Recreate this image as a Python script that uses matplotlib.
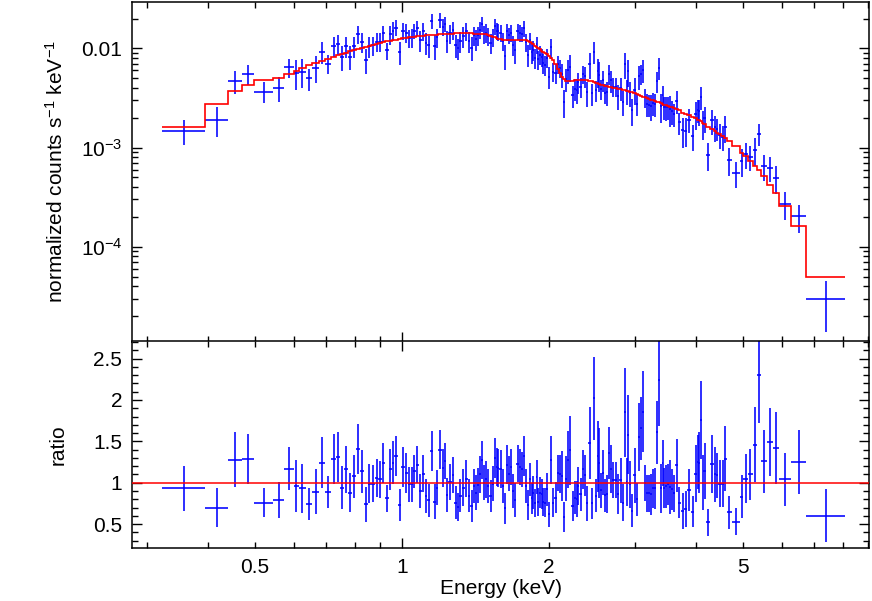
import matplotlib
matplotlib.use("Agg")
import matplotlib.pyplot as plt
import numpy as np
from matplotlib.ticker import FixedLocator, FixedFormatter, NullFormatter, MultipleLocator

plt.rcParams['font.family'] = ['Liberation Sans', 'DejaVu Sans']
plt.rcParams['mathtext.fontset'] = 'custom'
plt.rcParams['mathtext.rm'] = 'Liberation Sans'
plt.rcParams['mathtext.it'] = 'Liberation Sans'

# bin edges in keV
edges = [
    0.322, 0.3945, 0.4403, 0.470, 0.4976, 0.5442, 0.5734, 0.6006, 0.615, 0.6344,
    0.6555, 0.6744, 0.6941, 0.7158, 0.7327, 0.7467, 0.7607, 0.7753, 0.790, 0.8051,
    0.8204, 0.8358, 0.8498, 0.8639, 0.8804, 0.8950,
    0.9078, 0.9230, 0.9384, 0.9518, 0.9629, 0.9790, 0.9976, 1.0119, 1.0263, 1.0410,
    1.0533, 1.0658, 1.0810, 1.0964, 1.1146, 1.1278, 1.1412, 1.1602, 1.1740, 1.1879,
    1.2049, 1.2191, 1.2307, 1.2453, 1.2631, 1.2810, 1.2962, 1.3085, 1.3241, 1.3459,
    1.3651, 1.3813, 1.3976, 1.4108, 1.4242, 1.4377, 1.4514, 1.4649, 1.4823, 1.4963,
    1.5106, 1.529, 1.5435, 1.5581, 1.5692, 1.5841, 1.603, 1.6182, 1.6336, 1.6491,
    1.6647, 1.680, 1.6959, 1.7161, 1.7364, 1.7529, 1.7693, 1.7903, 1.8073, 1.8202,
    1.8374, 1.8504, 1.8635, 1.8812, 1.8945, 1.9080, 1.9261, 1.9396, 1.9533, 1.9719,
    1.9906, 2.0095, 2.029, 2.0531, 2.0775, 2.0972, 2.1171, 2.1371, 2.1624, 2.1829,
    2.1985, 2.2246, 2.2511, 2.2725, 2.2886, 2.3104, 2.337, 2.3647, 2.3872, 2.4098,
    2.4384, 2.4616, 2.4908, 2.5144, 2.5263, 2.5503, 2.5751, 2.5934, 2.6180, 2.6428,
    2.6679, 2.693, 2.7250, 2.7573, 2.7901,
    2.823, 2.8498, 2.8768, 2.8972, 2.9179, 2.9455, 2.9800, 3.0154, 3.0440, 3.0729,
    3.102, 3.1314, 3.1611, 3.1911, 3.2290, 3.2597, 3.2828, 3.3140, 3.3454, 3.3772,
    3.409, 3.4332, 3.4576, 3.4904, 3.5235, 3.5570, 3.5909, 3.6335, 3.6767, 3.7291,
    3.7905, 3.8445, 3.9086, 3.9736, 4.0208, 4.0494, 4.0782, 4.117, 4.1462, 4.1955,
    4.2856, 4.3569, 4.3983, 4.4505, 4.5141, 4.5669, 4.6321,
    4.743, 4.9256, 5.0073, 5.1148, 5.2367, 5.3365, 5.4383, 5.5945, 5.7551, 5.9205,
    6.2646, 6.7238, 8.0826,
]

# folded model, units of 1e-3 counts/s/keV
model_1e3 = [
    1.60, 2.74, 3.69, 4.32, 4.84, 5.08, 5.54, 5.95, 6.30, 6.75,
    7.20, 7.50, 7.90, 8.30, 8.55, 8.80, 9.10, 9.40, 9.70, 9.95,
    10.2, 10.45, 10.65, 10.85, 11.05,
    11.3, 11.5, 11.8, 12.0, 12.2, 12.3, 12.6, 12.7, 12.9, 13.0,
    13.2, 13.2, 13.3, 13.4, 13.5, 13.6, 13.6, 13.7, 13.8, 13.8,
    13.9, 14.0, 14.0, 14.1, 14.1, 14.1, 14.2, 14.2, 14.2, 14.2,
    14.2, 14.2, 14.2, 14.1, 14.1, 14.1, 14.1, 14.0, 14.0, 13.9,
    13.8, 13.5, 13.2, 13.0, 12.7, 12.6, 12.4, 12.3, 12.2, 12.2,
    12.2, 12.1, 12.1, 12.1, 12.1, 12.1, 12.1, 12.1, 12.1, 11.9,
    11.6, 11.3, 11.1, 10.7, 10.3, 10.1, 9.8, 9.5, 9.3, 9.0,
    8.8, 8.4, 8.0, 7.7, 6.9, 6.2, 5.7, 5.1, 4.9, 4.7,
    4.7, 4.7, 4.7, 4.8, 4.8, 4.8, 4.8, 4.8, 4.8, 4.8,
    4.7, 4.7, 4.6, 4.5, 4.5, 4.4, 4.3, 4.3, 4.2, 4.2,
    4.1, 4.1, 4.0, 4.0, 3.9,
    3.88, 3.84, 3.79, 3.74, 3.72, 3.67, 3.62, 3.52, 3.44, 3.37,
    3.31, 3.26, 3.21, 3.16, 3.11, 3.04, 3.01, 2.97, 2.92, 2.86,
    2.80, 2.75, 2.72, 2.67, 2.62, 2.58, 2.55, 2.51, 2.43, 2.37,
    2.26, 2.19, 2.11, 2.03, 1.97, 1.92, 1.90, 1.85, 1.78, 1.75,
    1.63, 1.53, 1.47, 1.42, 1.36, 1.30, 1.25,
    1.18, 1.05, 0.88, 0.82, 0.73, 0.65, 0.60, 0.52, 0.42, 0.35,
    0.26, 0.162, 0.0495,
]

# data / model
ratio = [
    0.93, 0.70, 1.28, 1.29, 0.76, 0.79, 1.17, 0.96, 0.93, 0.74,
    0.89, 1.24, 0.89, 1.29, 1.31, 0.94, 1.16, 0.88, 1.08, 1.41,
    1.14, 0.74, 0.99, 0.99, 1.06,
    1.04, 1.24, 0.81, 1.16, 1.24, 1.32, 0.73, 1.19, 1.12, 0.98,
    0.98, 1.14, 1.22, 0.90, 1.11, 0.84, 0.79, 1.38, 0.77, 0.94,
    1.40, 1.18, 1.26, 0.85, 1.01, 1.09, 0.76, 0.71, 0.84, 0.94,
    1.05, 0.84, 0.72, 0.96, 0.88, 0.97, 1.10, 1.27, 1.00, 1.04,
    0.96, 0.84, 0.99, 1.30, 1.19, 1.18, 1.16, 0.96, 0.69, 1.22,
    1.11, 1.19, 0.90, 0.79, 1.23, 1.19, 1.16, 1.32, 0.96, 0.73,
    1.04, 0.81, 0.88, 0.75, 1.07, 0.77, 0.88, 0.86, 0.77, 0.76,
    0.92, 0.62, 1.28, 0.76, 0.82, 1.12, 1.11, 1.08, 0.59, 1.05,
    1.28, 1.39, 0.72, 0.82, 0.80, 0.96, 0.86, 1.16, 1.09, 0.75,
    1.48, 0.75, 2.02, 0.84, 1.32, 1.24, 0.91, 1.12, 0.85, 0.86,
    1.36, 1.16, 1.03, 1.03, 0.86,
    1.03, 0.76, 1.85, 1.01, 1.58, 0.98, 0.66, 1.09, 0.80, 1.55,
    1.66, 1.86, 1.00, 0.87, 0.87, 0.86, 0.93, 0.93, 1.61, 2.24,
    0.93, 1.24, 0.94, 0.96, 0.98, 0.95, 0.92, 0.87, 1.21, 0.76,
    0.66, 0.68, 0.91, 0.65, 1.11, 1.25, 1.24, 1.76, 1.00, 1.14,
    0.52, 1.23, 1.10, 1.09, 0.99, 0.99, 1.29,
    0.64, 0.53, 0.83, 1.05, 1.10, 1.46, 2.30, 1.26, 1.49, 1.42,
    1.04, 1.25, 0.60,
]

ratio_err = [
    0.27, 0.23, 0.33, 0.30, 0.18, 0.22, 0.26, 0.32, 0.30, 0.19,
    0.27, 0.31, 0.19, 0.30, 0.30, 0.26, 0.28, 0.24, 0.26, 0.30,
    0.26, 0.21, 0.24, 0.22, 0.23,
    0.22, 0.24, 0.16, 0.25, 0.26, 0.24, 0.19, 0.24, 0.24, 0.21,
    0.21, 0.20, 0.22, 0.21, 0.22, 0.21, 0.20, 0.24, 0.21, 0.21,
    0.24, 0.23, 0.22, 0.21, 0.22, 0.22, 0.20, 0.17, 0.20, 0.22,
    0.22, 0.20, 0.19, 0.20, 0.21, 0.21, 0.22, 0.23, 0.21, 0.22,
    0.20, 0.19, 0.21, 0.24, 0.23, 0.23, 0.23, 0.20, 0.19, 0.24,
    0.21, 0.22, 0.21, 0.21, 0.22, 0.22, 0.21, 0.24, 0.20, 0.18,
    0.20, 0.19, 0.20, 0.17, 0.21, 0.17, 0.19, 0.18, 0.17, 0.17,
    0.20, 0.15, 0.29, 0.17, 0.19, 0.22, 0.23, 0.30, 0.18, 0.27,
    0.35, 0.42, 0.18, 0.20, 0.22, 0.23, 0.20, 0.24, 0.25, 0.21,
    0.43, 0.19, 0.50, 0.20, 0.43, 0.42, 0.21, 0.27, 0.20, 0.23,
    0.31, 0.29, 0.22, 0.22, 0.24,
    0.27, 0.22, 0.54, 0.29, 0.48, 0.28, 0.20, 0.33, 0.20, 0.41,
    0.38, 0.49, 0.22, 0.22, 0.22, 0.25, 0.24, 0.25, 0.38, 0.56,
    0.30, 0.28, 0.24, 0.26, 0.25, 0.33, 0.25, 0.22, 0.32, 0.19,
    0.22, 0.22, 0.25, 0.19, 0.34, 0.33, 0.37, 0.47, 0.33, 0.34,
    0.16, 0.35, 0.33, 0.27, 0.28, 0.28, 0.39,
    0.20, 0.16, 0.26, 0.30, 0.31, 0.45, 0.58, 0.38, 0.41, 0.44,
    0.32, 0.39, 0.32,
]

edges = np.array(edges)
model = np.array(model_1e3) * 1e-3
ratio = np.array(ratio)
ratio_err = np.array(ratio_err)
assert len(edges) == len(model) + 1 == len(ratio) + 1 == len(ratio_err) + 1, \
    (len(edges), len(model), len(ratio), len(ratio_err))

e_mid = 0.5 * (edges[:-1] + edges[1:])
e_half = 0.5 * (edges[1:] - edges[:-1])
counts = ratio * model
counts_err = ratio_err * model

W, H = 872, 601
fig = plt.figure(figsize=(W / 100, H / 100), dpi=100)
x0, x1 = 132, 869
ax1 = fig.add_axes([x0 / W, 1 - 341.5 / H, (x1 - x0) / W, 339.5 / H])
ax2 = fig.add_axes([x0 / W, 1 - 548.3 / H, (x1 - x0) / W, 206.8 / H], sharex=ax1)

blue = '#0000ff'
red = '#ff0000'

ax1.errorbar(e_mid, counts, xerr=e_half, yerr=counts_err, fmt='none',
             ecolor=blue, elinewidth=1.15, capsize=0, zorder=2)
ax1.stairs(model, edges, baseline=None, color=red, lw=1.2, zorder=3)

ax2.errorbar(e_mid, ratio, xerr=e_half, yerr=ratio_err, fmt='none',
             ecolor=blue, elinewidth=1.15, capsize=0, zorder=2)
ax2.axhline(1.0, color=red, lw=1.1, zorder=3)

ax1.set_xscale('log')
ax1.set_yscale('log')
ax1.set_xlim(0.2797, 9.057)
ax1.set_ylim(1.109e-5, 0.02944)
ax2.set_ylim(0.207, 2.707)

# x ticks: decade major, the rest minor; labels on 0.5, 1, 2, 5
minor_x = [0.3, 0.4, 0.5, 0.6, 0.7, 0.8, 0.9, 2, 3, 4, 5, 6, 7, 8, 9]
ax2.xaxis.set_major_locator(FixedLocator([1]))
ax2.xaxis.set_minor_locator(FixedLocator(minor_x))
ax2.xaxis.set_major_formatter(FixedFormatter(['1']))
ax2.xaxis.set_minor_formatter(FixedFormatter(
    ['', '', '0.5', '', '', '', '', '2', '', '', '5', '', '', '', '']))
plt.setp(ax1.get_xticklabels(which='both'), visible=False)

ax1.yaxis.set_major_locator(FixedLocator([1e-4, 1e-3, 1e-2]))
ax1.yaxis.set_major_formatter(FixedFormatter(['$10^{-4}$', '$10^{-3}$', '0.01']))
ax1.yaxis.set_minor_locator(FixedLocator(
    [m * 10.0 ** k for k in (-5, -4, -3, -2) for m in range(2, 10)]))
ax1.yaxis.set_minor_formatter(NullFormatter())

ax2.yaxis.set_major_locator(FixedLocator([0.5, 1, 1.5, 2, 2.5]))
ax2.yaxis.set_major_formatter(FixedFormatter(['0.5', '1', '1.5', '2', '2.5']))
ax2.yaxis.set_minor_locator(MultipleLocator(0.1))

for ax in (ax1, ax2):
    ax.tick_params(which='both', direction='in', top=True, right=True,
                   width=1.0, labelsize=15, pad=7)
    ax.tick_params(which='major', length=7)
    ax.tick_params(which='minor', length=4)
    for s in ax.spines.values():
        s.set_linewidth(1.1)

ax1.set_ylabel('normalized counts s$^{-1}$ keV$^{-1}$', fontsize=15)
ax2.set_ylabel('ratio', fontsize=15)
ax2.set_xlabel('Energy (keV)', fontsize=15)
ax1.yaxis.set_label_coords(-0.088, 0.5)
ax2.yaxis.set_label_coords(-0.088, 0.5)
ax2.xaxis.set_label_coords(0.5, -0.15)

fig.savefig('out.png', dpi=100)
